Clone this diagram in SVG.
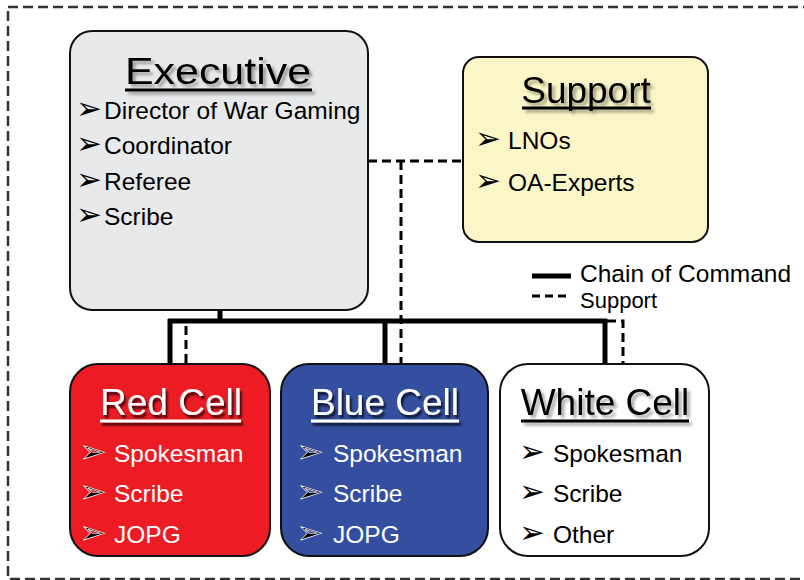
<svg xmlns="http://www.w3.org/2000/svg" width="804" height="580" viewBox="0 0 804 580">
<defs>
<style>
.box{stroke:#111;stroke-width:2}
.title{font-family:"Liberation Sans",Arial,sans-serif;font-size:37px}
.item{font-family:"Liberation Sans",Arial,sans-serif;font-size:24.5px}
.b{font-family:"DejaVu Sans",sans-serif;font-size:31px}
.solid{fill:none;stroke:#000;stroke-width:5}
.dash{fill:none;stroke:#000;stroke-width:3;stroke-dasharray:9 5}
</style>
<filter id="sh" x="-10%" y="-30%" width="130%" height="170%">
<feDropShadow dx="3" dy="3" stdDeviation="1.5" flood-color="#000" flood-opacity="0.35"/>
</filter>
<filter id="shd" x="-10%" y="-30%" width="130%" height="170%">
<feDropShadow dx="2" dy="3" stdDeviation="1.2" flood-color="#000" flood-opacity="0.75"/>
</filter>
</defs>
<rect x="8" y="7" width="830" height="572" fill="none" stroke="#333" stroke-width="2.5" stroke-dasharray="10 5"/>

<g id="connectors">
<path class="solid" d="M220 310 V321 M168 321 H607 M170 319 V364 M385 319 V364 M605 319 V364"/>
<path class="dash" d="M368 161 H463 M401 161 V364 M186 326 V364 M607 321 H623 V364"/>
</g>

<g id="executive">
<rect class="box" x="70" y="31" width="298" height="279" rx="22" fill="#e8e9eb"/>
<g filter="url(#sh)">
<text class="title" x="125" y="84" font-size="40" textLength="186" lengthAdjust="spacingAndGlyphs">Executive</text>
<line x1="125" y1="90" x2="312" y2="90" stroke="#000" stroke-width="3"/>
</g>
<g class="item">
<text x="76" y="119"><tspan class="b">➢</tspan><tspan x="104">Director of War Gaming</tspan></text>
<text x="76" y="154"><tspan class="b">➢</tspan><tspan x="104">Coordinator</tspan></text>
<text x="76" y="190"><tspan class="b">➢</tspan><tspan x="104">Referee</tspan></text>
<text x="76" y="225"><tspan class="b">➢</tspan><tspan x="104">Scribe</tspan></text>
</g>
</g>

<g id="support">
<rect class="box" x="463" y="57" width="245" height="185" rx="16" fill="#faf6c8"/>
<g filter="url(#sh)">
<text class="title" x="586" y="103" text-anchor="middle">Support</text>
<line x1="522" y1="108" x2="651" y2="108" stroke="#000" stroke-width="3"/>
</g>
<g class="item">
<text x="475" y="149"><tspan class="b">➢</tspan><tspan x="508">LNOs</tspan></text>
<text x="475" y="191"><tspan class="b">➢</tspan><tspan x="508">OA-Experts</tspan></text>
</g>
</g>

<g id="legend" class="item">
<line x1="532" y1="276" x2="571" y2="276" stroke="#000" stroke-width="5"/>
<text x="580" y="282">Chain of Command</text>
<line x1="532" y1="296" x2="571" y2="296" stroke="#000" stroke-width="3" stroke-dasharray="8 5"/>
<text x="580" y="308" font-size="22">Support</text>
</g>

<g id="red-cell">
<rect class="box" x="70" y="364" width="200" height="192" rx="28" fill="#ed1c24"/>
<g filter="url(#shd)">
<text class="title" x="171" y="415" text-anchor="middle" fill="#fff">Red Cell</text>
<line x1="100" y1="421" x2="241" y2="421" stroke="#fff" stroke-width="3"/>
</g>
<g class="item" fill="#fff">
<text x="80" y="462"><tspan class="b" fill="#000" stroke="#fff" stroke-width="0.6">➢</tspan><tspan x="114">Spokesman</tspan></text>
<text x="80" y="502"><tspan class="b" fill="#000" stroke="#fff" stroke-width="0.6">➢</tspan><tspan x="114">Scribe</tspan></text>
<text x="80" y="543"><tspan class="b" fill="#000" stroke="#fff" stroke-width="0.6">➢</tspan><tspan x="114">JOPG</tspan></text>
</g>
</g>

<g id="blue-cell">
<rect class="box" x="281" y="364" width="207" height="192" rx="28" fill="#344ea0"/>
<g filter="url(#shd)">
<text class="title" x="385" y="415" text-anchor="middle" fill="#fff">Blue Cell</text>
<line x1="311" y1="421" x2="459" y2="421" stroke="#fff" stroke-width="3"/>
</g>
<g class="item" fill="#fff">
<text x="297" y="462"><tspan class="b" fill="#000" stroke="#fff" stroke-width="0.6">➢</tspan><tspan x="333">Spokesman</tspan></text>
<text x="297" y="502"><tspan class="b" fill="#000" stroke="#fff" stroke-width="0.6">➢</tspan><tspan x="333">Scribe</tspan></text>
<text x="297" y="543"><tspan class="b" fill="#000" stroke="#fff" stroke-width="0.6">➢</tspan><tspan x="333">JOPG</tspan></text>
</g>
</g>

<g id="white-cell">
<rect class="box" x="500" y="364" width="209" height="192" rx="28" fill="#fff"/>
<g filter="url(#sh)">
<text class="title" x="605" y="415" text-anchor="middle">White Cell</text>
<line x1="521" y1="421" x2="689" y2="421" stroke="#000" stroke-width="3"/>
</g>
<g class="item">
<text x="519" y="462"><tspan class="b">➢</tspan><tspan x="553">Spokesman</tspan></text>
<text x="519" y="502"><tspan class="b">➢</tspan><tspan x="553">Scribe</tspan></text>
<text x="519" y="543"><tspan class="b">➢</tspan><tspan x="553">Other</tspan></text>
</g>
</g>
</svg>
